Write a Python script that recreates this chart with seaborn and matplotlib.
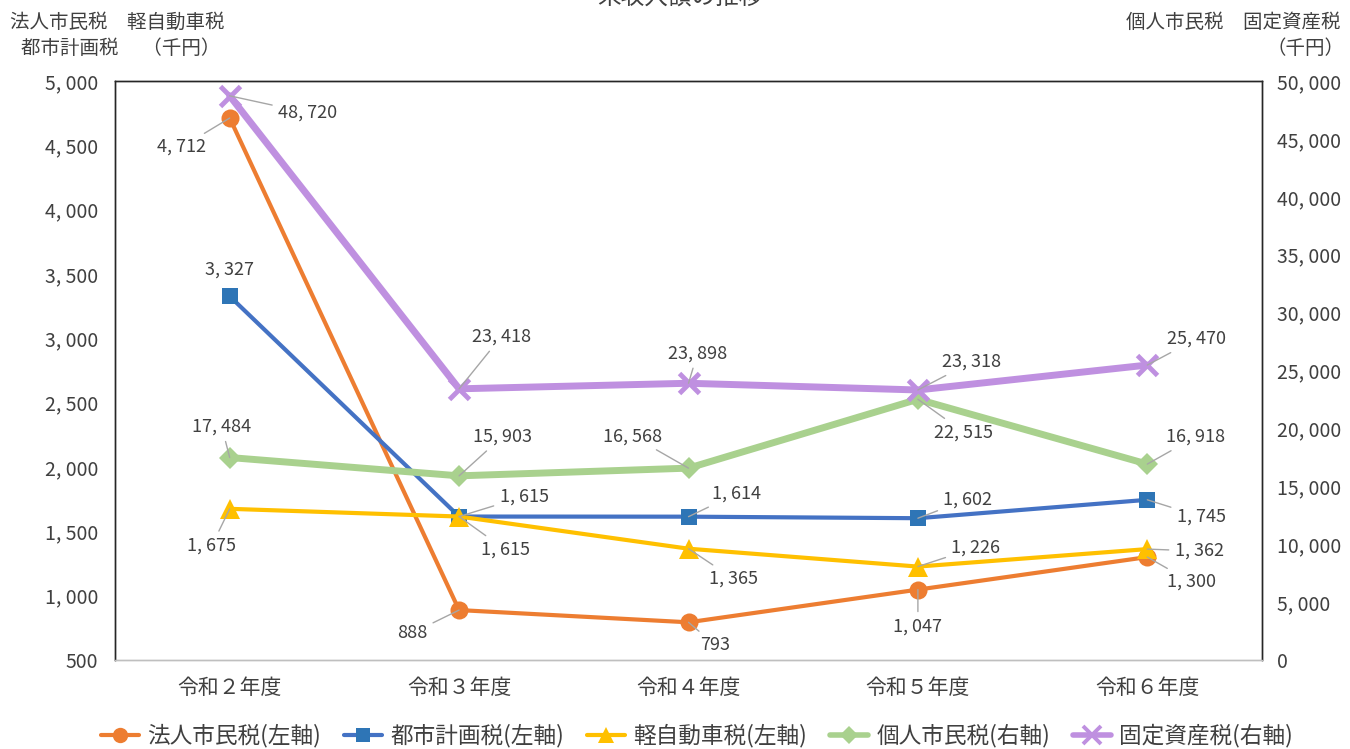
import matplotlib
matplotlib.use("Agg")
import matplotlib.pyplot as plt
from matplotlib.lines import Line2D
import seaborn as sns
import pandas as pd

categories = ["令和２年度", "令和３年度", "令和４年度", "令和５年度", "令和６年度"]
hojin = [4712, 888, 793, 1047, 1300]
toshi = [3327, 1615, 1614, 1602, 1745]
kei = [1675, 1615, 1365, 1226, 1362]
kojin = [17484, 15903, 16568, 22515, 16918]
kotei = [48720, 23418, 23898, 23318, 25470]
left_ticks = [500, 1000, 1500, 2000, 2500, 3000, 3500, 4000, 4500, 5000]
right_ticks = [0, 5000, 10000, 15000, 20000, 25000, 30000, 35000, 40000, 45000, 50000]

sns.set_theme(style="white")
plt.rcParams['font.family'] = ['Noto Sans CJK JP', 'DejaVu Sans']

def fmt(v):
    return f"{v:,}".replace(",", ", ")

fig = plt.figure(figsize=(13.5, 7.49), dpi=100)
ax = fig.add_axes([115/1350, 1-660/749, (1262-115)/1350, (660-81)/749])
ax2 = ax.twinx()

xs = list(range(len(categories)))
TXT = "#404040"
LEAD = "#a6a6a6"

series = [
    # name, values, axis, line color, marker, marker color, lw, ms, offsets(px)
    ("法人市民税(左軸)", hojin, ax, "#ED7D31", "o", "#ED7D31", 3, 13,
     [(-48, 29), (-47, 23), (27, 23), (0, 37), (44, 25)]),
    ("都市計画税(左軸)", toshi, ax, "#4472C4", "s", "#2E75B6", 3, 12,
     [(0, -27), (65, -20), (48, -23), (50, -19), (54, 17)]),
    ("軽自動車税(左軸)", kei, ax, "#FFC000", "^", "#FFC000", 3, 14,
     [(-18, 37), (46, 33), (45, 30), (58, -19), (52, 2)]),
    ("個人市民税(右軸)", kojin, ax2, "#A9D18E", "D", "#A9D18E", 5, 11,
     [(-8, -31), (43, -39), (-56, -32), (46, 33), (48, -27)]),
    ("固定資産税(右軸)", kotei, ax2, "#BF90E0", "x", "#BF90E0", 5, 15,
     [(78, 17), (42, -52), (9, -30), (54, -28), (49, -26)]),
]

handles = []
for name, vals, a, lc, mk, mc, lw, ms, offs in series:
    df = pd.DataFrame({"x": xs, "y": vals})
    mew = 3.5 if mk == "x" else 0
    sns.lineplot(data=df, x="x", y="y", ax=a, color=lc, linewidth=lw,
                 marker=mk, markersize=ms, markerfacecolor=mc,
                 markeredgecolor=mc, markeredgewidth=mew, legend=False)
    for xi, v, (dx, dy) in zip(xs, vals, offs):
        far = (dx * dx + dy * dy) > 30 * 30
        a.annotate(fmt(v), xy=(xi, v), xytext=(dx * 0.72, -dy * 0.72),
                   textcoords="offset points", ha="center", va="center",
                   fontsize=13, color=TXT, zorder=10,
                   arrowprops=dict(arrowstyle="-", color=LEAD, lw=1,
                                   shrinkA=2, shrinkB=0) if far else None)
    handles.append(Line2D([0], [0], color=lc, lw=lw if lw < 5 else 4, marker=mk,
                          markersize=ms * 0.85, markerfacecolor=mc,
                          markeredgecolor=mc, markeredgewidth=mew * 0.8))

ax.set_xlim(-0.5, len(categories) - 0.5)
ax.set_ylim(500, 5000)
ax2.set_ylim(0, 50000)
ax.set_xticks(xs)
ax.set_xticklabels(categories, fontsize=15, color=TXT)
ax.set_yticks(left_ticks)
ax.set_yticklabels([fmt(t) for t in left_ticks], fontsize=14, color=TXT)
ax2.set_yticks(right_ticks)
ax2.set_yticklabels([fmt(t) for t in right_ticks], fontsize=14, color=TXT)
ax.set_xlabel("")
ax.set_ylabel("")
ax2.set_ylabel("")
ax.tick_params(axis="y", length=0, pad=12)
ax.tick_params(axis="x", length=0, pad=12)
ax2.tick_params(axis="y", length=0, pad=11)
for a in (ax, ax2):
    a.grid(False)
    for side, s in a.spines.items():
        s.set_linewidth(1)
        s.set_color("#bfbfbf" if side == "bottom" else "#262626")

# axis unit labels
fig.text(10/1350, 1-22/749, "法人市民税　軽自動車税", fontsize=14, color=TXT,
         ha="left", va="center")
fig.text(21/1350, 1-49/749, "都市計画税　 （千円）", fontsize=14, color=TXT,
         ha="left", va="center")
fig.text(1340/1350, 1-22/749, "個人市民税　固定資産税", fontsize=14, color=TXT,
         ha="right", va="center")
fig.text(1345/1350, 1-49/749, "（千円）", fontsize=14, color=TXT,
         ha="right", va="center")

# title (cut at top as in reference)
fig.text(680/1350, 1 + 3/749, "未収入額の推移", fontsize=17, color=TXT,
         ha="center", va="center")

fig.legend(handles, [s[0] for s in series], loc="center", ncol=5,
           bbox_to_anchor=(697/1350, 1-736/749), frameon=False, fontsize=16.3,
           handlelength=1.7, columnspacing=1.0, handletextpad=0.35,
           labelcolor=TXT)

fig.savefig("out.png", dpi=100)
